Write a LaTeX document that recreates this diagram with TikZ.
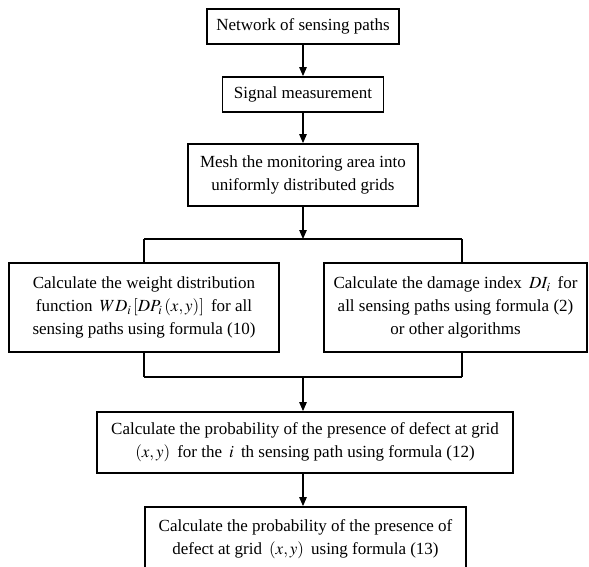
\documentclass[tikz,border=0pt]{standalone}
\usepackage{mathptmx}
\usepackage{fontspec}
\setmainfont{Liberation Serif}
\usetikzlibrary{arrows.meta}

\begin{document}
\begin{tikzpicture}[x=1pt, y=-1pt, >={Triangle[length=9pt,width=7.5pt]},
  box/.style={draw, line width=1.8pt, fill=white, align=center, inner sep=0pt,
    font=\fontsize{17}{23}\selectfont},
  link/.style={line width=1.1pt}]
  \useasboundingbox (0,0) rectangle (589,567);
  % Define the steps
  \node[box, minimum width=192pt, minimum height=35pt] (N) at (303,26.5) {Network of sensing paths};
  \node[box, minimum width=161pt, minimum height=35pt] (S) at (303,94.5) {Signal measurement};
  \node[box, minimum width=230pt, minimum height=62pt] (M) at (303,175) {Mesh the monitoring area into\\uniformly distributed grids};
  \node[box, minimum width=270pt, minimum height=89pt] (W) at (144,307.5) {Calculate the weight distribution\\function\, $WD_i\,[DP_i\,(x,y)]$\, for all\\sensing paths using formula (10)};
  \node[box, minimum width=263pt, minimum height=89pt] (D) at (455.5,307.5) {Calculate the damage index\, $DI_i$\, for\\all sensing paths using formula (2)\\or other algorithms};
  \node[box, minimum width=416pt, minimum height=61pt] (P) at (305,442.5) {Calculate the probability of the presence of defect at grid\\$(x,y)$\, for the\, $i$\, th sensing path using formula (12)};
  \node[box, minimum width=321pt, minimum height=64pt] (Q) at (305.5,539) {Calculate the probability of the presence of\\defect at grid\, $(x,y)$\, using formula (13)};

  % Split and join points
  \coordinate (TL) at (144,239);
  \coordinate (TR) at (462,239);
  \coordinate (BL) at (144,377);
  \coordinate (BR) at (462,377);
  \coordinate (BC) at (303,377);

  % Draw the connectors
  \draw[link, ->] (N) -- (S);
  \draw[link, ->] (S) -- (M);
  \draw[link, ->] (M) -- (M |- TL);
  \draw[link] (TL) -- (TR);
  \draw[link] (TL) -- (W);
  \draw[link] (TR) -- (TR |- D.north);
  \draw[link] (W) -- (BL);
  \draw[link] (TR |- D.south) -- (BR);
  \draw[link] (BL) -- (BR);
  \draw[link, ->] (BC) -- (BC |- P.north);
  \draw[link, ->] (P.south -| BC) -- (BC |- Q.north);
\end{tikzpicture}
\end{document}
